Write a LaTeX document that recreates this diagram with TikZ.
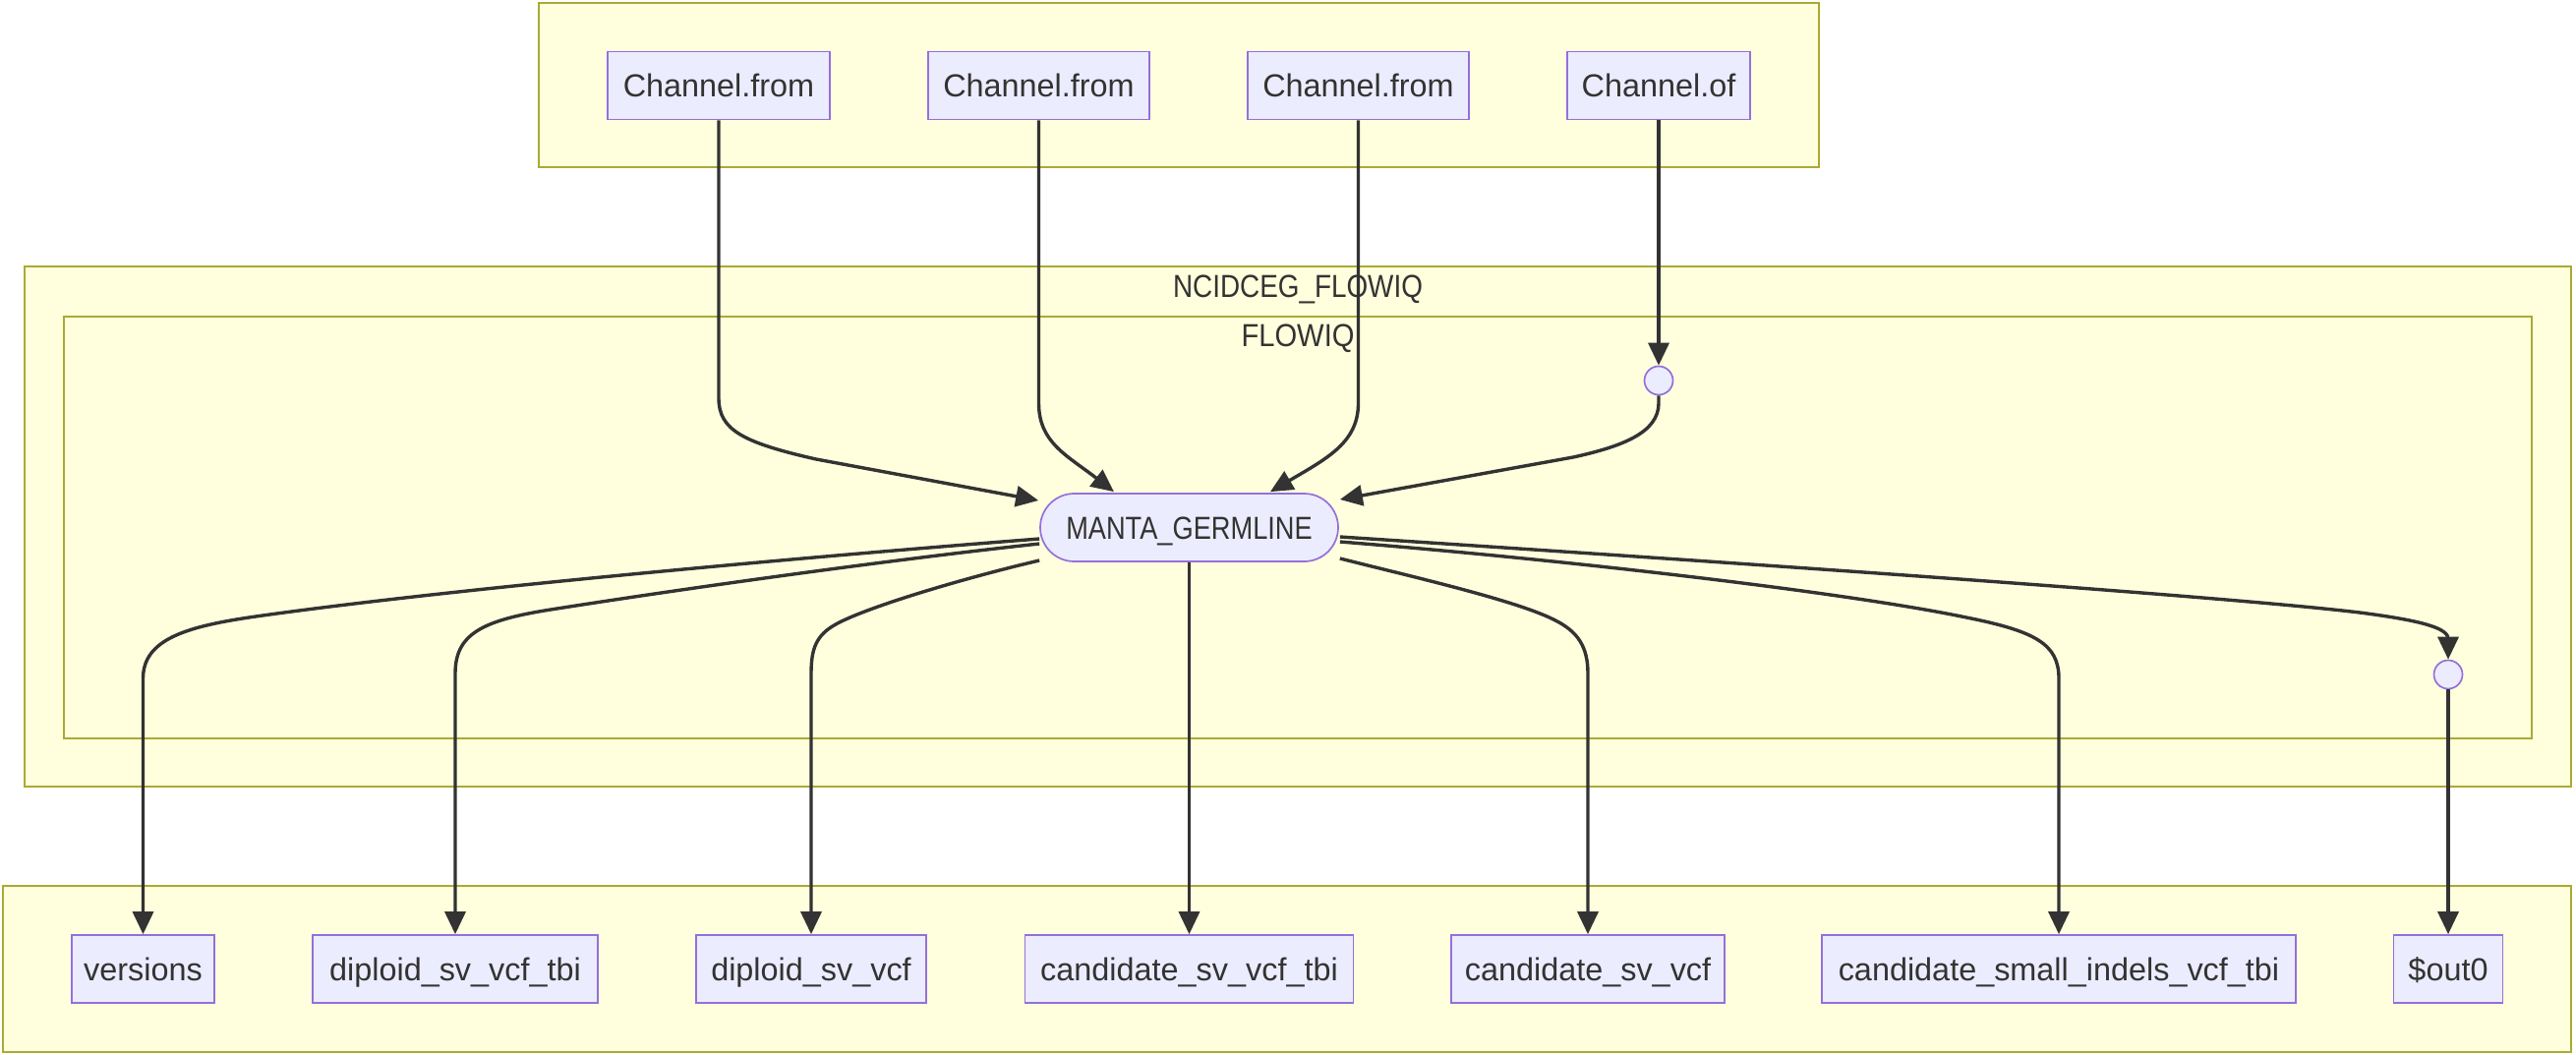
\documentclass[tikz,border=0pt]{standalone}
\usepackage{fontspec}
\setmainfont{Liberation Sans}
\newfontfamily\narrowA[FakeStretch=0.84]{Liberation Sans}
\newfontfamily\narrowB[FakeStretch=0.86]{Liberation Sans}
\newfontfamily\narrowC[FakeStretch=0.90]{Liberation Sans}
\usetikzlibrary{arrows.meta,calc}
\definecolor{clfill}{HTML}{FFFFDE}
\definecolor{clline}{HTML}{AAAA33}
\definecolor{ndfill}{HTML}{ECECFF}
\definecolor{ndline}{HTML}{9370DB}
\definecolor{edgecol}{HTML}{333333}
\begin{document}
\begin{tikzpicture}[x=1pt,y=-1pt,
  cluster/.style={draw=clline,fill=clfill,line width=1.7pt},
  txt/.style={text=edgecol,font=\fontsize{32.4}{38}\selectfont},
  box/.style={txt,draw=ndline,fill=ndfill,line width=1.7pt,minimum height=69pt,inner sep=0pt,text height=23pt,text depth=0pt},
  stadium/.style={box,rounded corners=34.5pt},
  circ/.style={circle,draw=ndline,fill=ndfill,line width=1.7pt,minimum size=29pt,inner sep=0pt},
  link/.style={draw=edgecol,line width=3.4pt,-{Triangle[length=23pt,width=21pt]}}]
\useasboundingbox (0,0) rectangle (2620,1072);
\fill[white] (0,0) rectangle (2620,1072);
% clusters
\draw[cluster] (548,3) rectangle (1850,170);
\draw[cluster] (25,271) rectangle (2615,800);
\draw[cluster] (65,322) rectangle (2575,751);
\draw[cluster] (3,901) rectangle (2615,1070);
\node[txt,anchor=base] (lblouter) at (1320,302) {\narrowB NCIDCEG\_FLOWIQ};
\node[txt,anchor=base] (lblinner) at (1320,352) {\narrowC FLOWIQ};
% nodes
\node[box,minimum width=226pt] (cf1) at (731,87) {Channel.from};
\node[box,minimum width=225pt] (cf2) at (1056.5,87) {Channel.from};
\node[box,minimum width=225pt] (cf3) at (1381.5,87) {Channel.from};
\node[box,minimum width=186pt] (cof) at (1687,87) {Channel.of};
\node[circ] (c1) at (1687,387) {};
\node[stadium,minimum width=303pt] (manta) at (1209.5,536.5) {\narrowA MANTA\_GERMLINE};
\node[circ] (c2) at (2490,686) {};
\node[box,minimum width=145pt] (versions) at (145.5,985.5) {versions};
\node[box,minimum width=290pt] (dsvt) at (463,985.5) {diploid\_sv\_vcf\_tbi};
\node[box,minimum width=234pt] (dsv) at (825,985.5) {diploid\_sv\_vcf};
\node[box,minimum width=334pt] (csvt) at (1209.5,985.5) {candidate\_sv\_vcf\_tbi};
\node[box,minimum width=278pt] (csv) at (1615,985.5) {candidate\_sv\_vcf};
\node[box,minimum width=482pt] (csivt) at (2094,985.5) {candidate\_small\_indels\_vcf\_tbi};
\node[box,minimum width=111pt] (out0) at (2490,985.5) {\$out0};
% incoming edges
\draw[link] (cf1.south) -- (731,405) .. controls (731,437) and (755,450) .. (830,467) -- ($(manta.west)+(-1,-27.5)$);
\draw[link] (cf2.south) -- (1056.5,410) .. controls (1056.5,450) and (1085,463) .. ($(manta.north)+(-76.5,-1)$);
\draw[link] (cf3.south) -- (1381.5,410) .. controls (1381.5,450) and (1350,466) .. ($(manta.north)+(82.5,-1)$);
\draw[link] (cof.south) -- (c1.north);
\draw[link] (c1.south) -- (1687,410) .. controls (1687,440) and (1650,454) .. (1600,465) -- ($(manta.east)+(1,-28.5)$);
% outgoing edges
\draw[link] ($(manta.west)+(0,11.5)$) .. controls (800,568) and (450,600) .. (260,627) .. controls (190,637) and (145.5,650) .. (145.5,690) -- (versions.north);
\draw[link] ($(manta.west)+(0,16.5)$) .. controls (900,570) and (700,598) .. (560,620) .. controls (490,631) and (463,645) .. (463,685) -- (dsvt.north);
\draw[link] ($(manta.west)+(0,33.5)$) .. controls (980,588) and (880,618) .. (850,635) .. controls (830,646) and (825,660) .. (825,685) -- (dsv.north);
\draw[link] (manta.south) -- (csvt.north);
\draw[link] ($(manta.east)+(1,31.5)$) .. controls (1430,585) and (1540,610) .. (1580,630) .. controls (1605,642) and (1615,658) .. (1615,685) -- (csv.north);
\draw[link] ($(manta.east)+(1,14.5)$) .. controls (1600,570) and (1880,603) .. (2000,628) .. controls (2070,642) and (2094,655) .. (2094,690) -- (csivt.north);
\draw[link] ($(manta.east)+(1,9.5)$) .. controls (1700,568) and (2250,605) .. (2400,623) .. controls (2470,632) and (2490,640) .. (2490,650) -- (c2.north);
\draw[link] (c2.south) -- (out0.north);
\end{tikzpicture}
\end{document}
